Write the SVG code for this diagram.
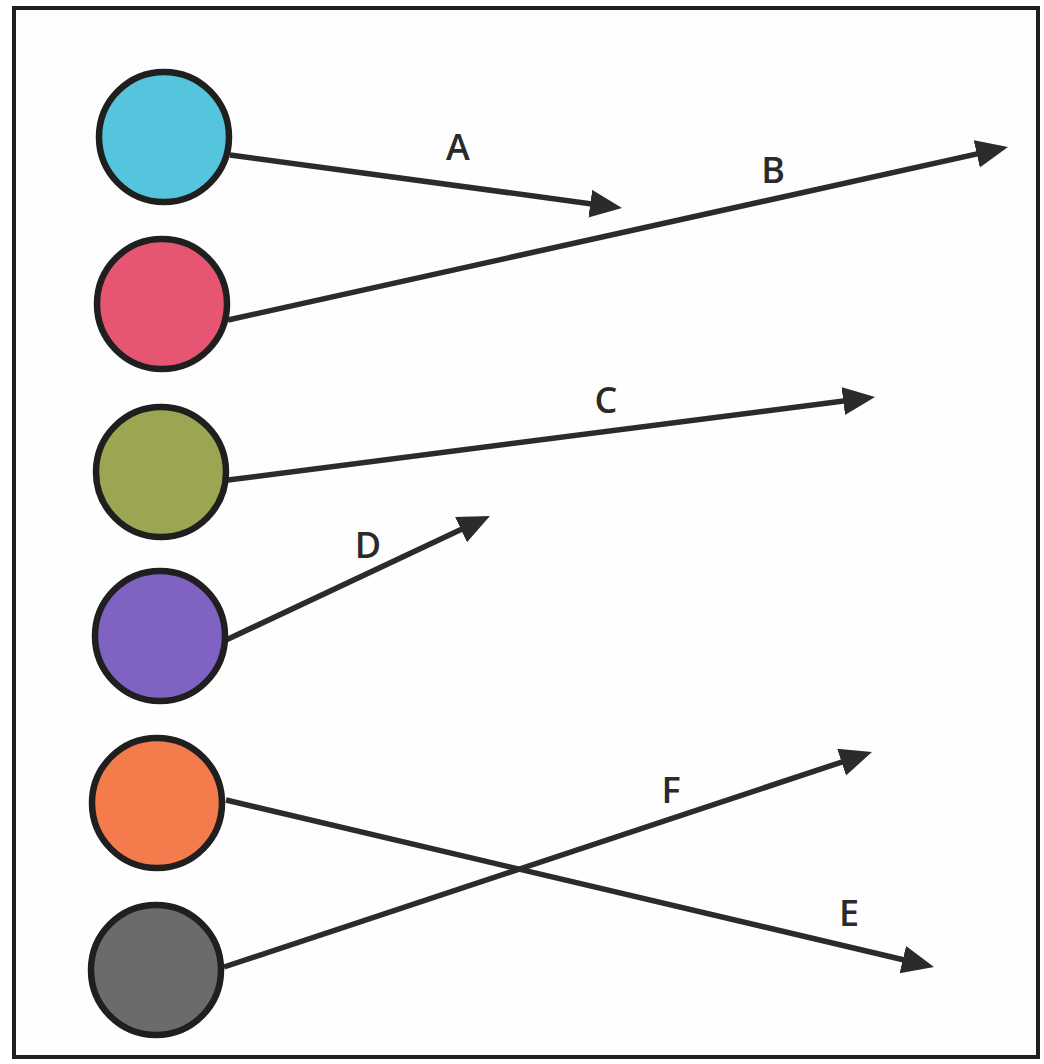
<svg xmlns="http://www.w3.org/2000/svg" width="1044" height="1064" viewBox="0 0 1044 1064">
<style>
.node circle{stroke:#1f1f1f;stroke-width:6.5}
.conn line{stroke:#2b2b2b;stroke-width:5.5;stroke-linecap:butt;marker-end:url(#ah)}
.lbl{font-family:"Open Sans","Liberation Sans",sans-serif;font-size:36px;font-weight:600;fill:#2a2a2a;text-anchor:middle}
</style>
<defs>
<marker id="ah" markerUnits="userSpaceOnUse" markerWidth="36" markerHeight="30" refX="20" refY="14" orient="auto">
<path d="M0,0 L32,14 L0,28 Z" fill="#2b2b2b"/>
</marker>
</defs>
<rect x="0" y="0" width="1044" height="1064" fill="#ffffff"/>
<rect x="14" y="8" width="1024" height="1049" fill="#fefefe" stroke="#1f1f1f" stroke-width="4"/>
<g id="connectors" class="conn">
<line x1="230" y1="155" x2="610.1" y2="206.4"/>
<line x1="228" y1="320" x2="996.3" y2="149.6"/>
<line x1="228" y1="480" x2="863.1" y2="398.5"/>
<line x1="226" y1="640" x2="479.1" y2="521.1"/>
<line x1="226" y1="800" x2="922.3" y2="964.2"/>
<line x1="224" y1="967" x2="860.6" y2="755.8"/>
</g>
<g id="labels">
<text class="lbl" x="458" y="160">A</text>
<text class="lbl" x="773" y="183">B</text>
<text class="lbl" x="606" y="413">C</text>
<text class="lbl" x="368" y="558">D</text>
<text class="lbl" x="849" y="926">E</text>
<text class="lbl" x="671" y="803">F</text>
</g>
<g id="node-cyan" class="node"><circle cx="164" cy="137" r="65" fill="#55c4dd"/></g>
<g id="node-pink" class="node"><circle cx="162" cy="304" r="65" fill="#e65673"/></g>
<g id="node-olive" class="node"><circle cx="161" cy="472" r="65" fill="#9ca652"/></g>
<g id="node-purple" class="node"><circle cx="160" cy="636" r="65" fill="#8062c2"/></g>
<g id="node-orange" class="node"><circle cx="157" cy="803" r="65" fill="#f47b4c"/></g>
<g id="node-gray" class="node"><circle cx="156" cy="970" r="65" fill="#6b6b6b"/></g>
</svg>
